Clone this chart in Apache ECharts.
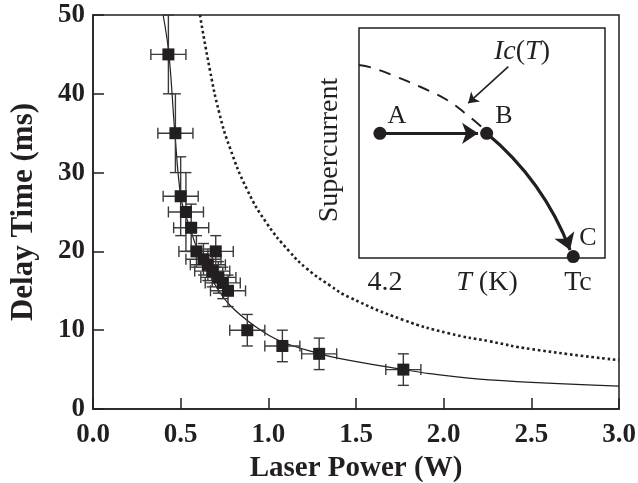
<!DOCTYPE html>
<html>
<head>
<meta charset="utf-8">
<script src="https://cdn.jsdelivr.net/npm/echarts@6/dist/echarts.min.js"></script>
<style>
  html, body { margin: 0; padding: 0; background: #fff; }
  #chart { width: 638px; height: 483px; }
</style>
</head>
<body>
<div id="chart"></div>
<script>
// measured data (laser power in W, delay time in ms)
const power = [0.43, 0.47, 0.50, 0.53, 0.56, 0.59, 0.70, 0.63, 0.655, 0.68, 0.715, 0.74, 0.77, 0.88, 1.08, 1.29, 1.77];
const delay = [45, 35, 27, 25, 23, 20, 20, 19, 18.3, 17.5, 16.7, 16, 15, 10, 8, 7, 5];
const powerErr = [0.1, 0.1, 0.1, 0.1, 0.1, 0.1, 0.1, 0.1, 0.1, 0.1, 0.1, 0.1, 0.1, 0.1, 0.1, 0.1, 0.1];
const delayErr = [5, 5, 5, 5, 3, 2, 2, 2, 2, 2, 2, 2, 2, 2, 2, 2, 2];

// fitted curve (solid)
const fitX = [0.40, 0.433, 0.467, 0.50, 0.53, 0.56, 0.60, 0.69, 0.78, 0.93, 1.07, 1.28, 1.41, 1.77, 1.92, 2.26, 3.0];
const fitY = [50, 45, 35, 27, 24.5, 22.5, 20, 16, 13.2, 10.4, 8.6, 7.1, 6.4, 5.0, 4.5, 3.7, 2.9];

// dotted curve
const dotX = [0.61, 0.667, 0.72, 0.78, 0.88, 0.99, 1.12, 1.22, 1.35, 1.46, 1.77, 2.03, 2.26, 2.5, 3.0];
const dotY = [50, 43, 37.6, 33.2, 27.8, 23.6, 20, 17.8, 15.7, 14.2, 11.3, 9.6, 8.6, 7.6, 6.2];

const xTicks = [0, 0.5, 1.0, 1.5, 2.0, 2.5, 3.0];
const yTicks = [0, 10, 20, 30, 40, 50];

// inset schematic (normalised 0..1 coordinates)
const icX = [0, 0.057, 0.154, 0.26, 0.358, 0.451, 0.505];
const icY = [0.839, 0.826, 0.787, 0.739, 0.687, 0.613, 0.564];
const stateNames = ['A', 'B', 'C'];
const stateX = [0.085, 0.519, 0.871];
const stateY = [0.542, 0.542, 0.006];

const ink = '#231f20';
const serif = '"Liberation Serif", "DejaVu Serif", serif';

const chart = echarts.init(document.getElementById('chart'), null, { renderer: 'canvas' });

function errorBars(params, api) {
    const x = api.value(0), y = api.value(1), xe = api.value(2), ye = api.value(3);
    const l = api.coord([x - xe, y]);
    const r = api.coord([x + xe, y]);
    const t = api.coord([x, y + ye]);
    const b = api.coord([x, y - ye]);
    const cap = 5.5;
    const style = { stroke: '#3a3a3a', lineWidth: 1.4 };
    const seg = (x1, y1, x2, y2) => ({ type: 'line', shape: { x1, y1, x2, y2 }, style });
    return {
        type: 'group',
        children: [
            seg(l[0], l[1], r[0], r[1]),
            seg(l[0], l[1] - cap, l[0], l[1] + cap),
            seg(r[0], r[1] - cap, r[0], r[1] + cap),
            seg(t[0], t[1], b[0], b[1]),
            seg(t[0] - cap, t[1], t[0] + cap, t[1]),
            seg(b[0] - cap, b[1], b[0] + cap, b[1])
        ]
    };
}

const labelText = (text, x, y, size, extra) => Object.assign({
    type: 'text', x, y,
    style: { text, font: size + 'px ' + serif, fill: ink, align: 'center', verticalAlign: 'middle' },
    z: 100
}, extra || {});

let option = {
    backgroundColor: '#fff',
    animation: false,
    grid: [
        { left: 93, top: 15, width: 526, height: 394, show: true, borderColor: ink, borderWidth: 1.5, outerBoundsMode: 'none' },
        { left: 359, top: 28, width: 246, height: 230, show: true, borderColor: ink, borderWidth: 1.5, backgroundColor: '#fff', z: 5, outerBoundsMode: 'none' }
    ],
    xAxis: [
        {
            gridIndex: 0, type: 'value', min: 0, max: 3, interval: 0.5,
            name: 'Laser Power (W)', nameLocation: 'middle', nameGap: 38,
            nameTextStyle: { fontFamily: serif, fontWeight: 'bold', fontSize: 29, color: ink },
            axisLine: { lineStyle: { color: ink, width: 1.5 } },
            axisTick: { inside: true, length: 11, lineStyle: { color: ink, width: 1.5 } },
            axisLabel: {
                margin: 13, fontFamily: serif, fontWeight: 'bold', fontSize: 27, color: ink,
                formatter: v => xTicks.includes(v) ? v.toFixed(1) : ''
            },
            splitLine: { show: false }
        },
        { gridIndex: 1, type: 'value', min: 0, max: 1, show: false }
    ],
    yAxis: [
        {
            gridIndex: 0, type: 'value', min: 0, max: 50, interval: 10,
            name: 'Delay Time (ms)', nameLocation: 'middle', nameGap: 54,
            nameTextStyle: { fontFamily: serif, fontWeight: 'bold', fontSize: 31, color: ink },
            axisLine: { lineStyle: { color: ink, width: 1.5 } },
            axisTick: { inside: true, length: 11, lineStyle: { color: ink, width: 1.5 } },
            axisLabel: {
                margin: 8, fontFamily: serif, fontWeight: 'bold', fontSize: 27, color: ink,
                formatter: v => yTicks.includes(v) ? String(v) : ''
            },
            splitLine: { show: false }
        },
        { gridIndex: 1, type: 'value', min: 0, max: 1, show: false }
    ],
    series: [
        {
            name: 'dotted', type: 'line', xAxisIndex: 0, yAxisIndex: 0, smooth: 0.5, showSymbol: false,
            data: dotX.map((x, i) => [x, dotY[i]]),
            lineStyle: { color: ink, width: 2.6, type: [2.6, 2.8], cap: 'butt' },
            clip: true, z: 2
        },
        {
            name: 'fit', type: 'line', xAxisIndex: 0, yAxisIndex: 0, smooth: 0.4, showSymbol: false,
            data: fitX.map((x, i) => [x, fitY[i]]),
            lineStyle: { color: ink, width: 1.2 },
            clip: true, z: 3
        },
        {
            name: 'errors', type: 'custom', xAxisIndex: 0, yAxisIndex: 0,
            renderItem: errorBars,
            encode: { x: 0, y: 1 },
            data: power.map((p, i) => [p, delay[i], powerErr[i], delayErr[i]]),
            z: 4
        },
        {
            name: 'data', type: 'scatter', xAxisIndex: 0, yAxisIndex: 0,
            symbol: 'rect', symbolSize: 12,
            itemStyle: { color: ink, opacity: 1 },
            data: power.map((p, i) => [p, delay[i]]),
            z: 5
        },
        // inset
        {
            name: 'Ic', type: 'line', xAxisIndex: 1, yAxisIndex: 1, smooth: 0.4, showSymbol: false,
            data: icX.map((x, i) => [x, icY[i]]),
            lineStyle: { color: ink, width: 2, type: [12, 9] },
            z: 10
        },
        {
            name: 'arrows', type: 'lines', coordinateSystem: 'cartesian2d', xAxisIndex: 1, yAxisIndex: 1,
            symbol: ['none', 'arrow'], symbolSize: 16,
            data: [
                { coords: [[stateX[0], stateY[0]], [0.484, stateY[1]]], lineStyle: { curveness: 0 } },
                { coords: [[stateX[1], stateY[1]], [0.858, 0.035]], lineStyle: { curveness: 0.13 } }
            ],
            lineStyle: { color: ink, width: 3.2, opacity: 1 },
            z: 11
        },
        {
            name: 'icArrow', type: 'lines', coordinateSystem: 'cartesian2d', xAxisIndex: 1, yAxisIndex: 1,
            symbol: ['none', 'arrow'], symbolSize: 10,
            data: [{ coords: [[0.607, 0.832], [0.444, 0.673]] }],
            lineStyle: { color: ink, width: 1.6, opacity: 1 },
            z: 11
        },
        {
            name: 'states', type: 'scatter', xAxisIndex: 1, yAxisIndex: 1,
            symbol: 'circle', symbolSize: 13,
            itemStyle: { color: ink, opacity: 1 },
            data: stateX.map((x, i) => ({ name: stateNames[i], value: [x, stateY[i]] })),
            z: 12
        }
    ],
    graphic: [
        labelText('A', 397, 116, 26),
        labelText('B', 504, 116, 26),
        labelText('C', 588, 238, 26),
        {
            type: 'text', x: 522, y: 52, z: 100,
            style: {
                text: '{i|Ic}({i|T})',
                rich: { i: { font: 'italic 28px ' + serif, fill: ink } },
                font: '28px ' + serif, fill: ink, align: 'center', verticalAlign: 'middle'
            }
        },
        labelText('4.2', 385, 283, 28),
        {
            type: 'text', x: 487, y: 283, z: 100,
            style: {
                text: '{i|T} (K)',
                rich: { i: { font: 'italic 28px ' + serif, fill: ink } },
                font: '28px ' + serif, fill: ink, align: 'center', verticalAlign: 'middle'
            }
        },
        labelText('Tc', 578, 283, 28),
        labelText('Supercurrent', 330, 150, 28, { rotation: Math.PI / 2 })
    ]
};

window.addEventListener('resize', function () {
    chart.resize();
});

option && chart.setOption(option);
</script>
</body>
</html>
